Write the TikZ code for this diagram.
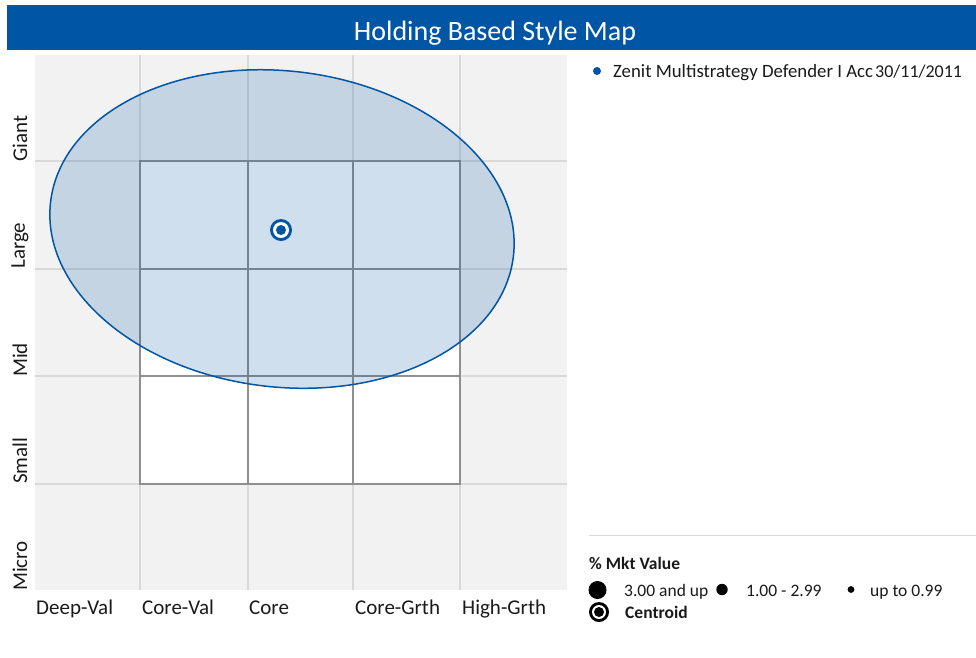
\documentclass[tikz,border=0pt]{standalone}
\usepackage{fontspec}
\setmainfont{Carlito}
\definecolor{barblue}{HTML}{0055A4}
\definecolor{plotbg}{HTML}{F2F2F2}
\definecolor{gridlt}{HTML}{D9D9D9}
\definecolor{boxln}{HTML}{8F8F8F}
\definecolor{txt}{HTML}{1A1A1A}
\tikzset{
  axlbl/.style={font=\fontsize{21}{24}\selectfont, text=txt, inner sep=0pt},
  leglbl/.style={font=\fontsize{17.5}{20}\selectfont, text=txt, inner sep=0pt, anchor=base west},
  serlbl/.style={font=\fontsize{18.8}{22}\selectfont, text=txt, inner sep=0pt, anchor=base west},
  gridline/.style={draw=gridlt, line width=1.8pt},
  boxline/.style={draw=boxln, line width=1.6pt},
}
\begin{document}
\begin{tikzpicture}[x=1pt,y=-1pt]
\useasboundingbox (0,0) rectangle (976,657);
\fill[white] (0,0) rectangle (976,657);
% title bar
\fill[barblue] (7,5) rectangle (976,50);
\node[font=\fontsize{28}{32}\selectfont, text=white, inner sep=0pt, anchor=base] (title) at (495,40.5) {Holding Based Style Map};
% plot background
\fill[plotbg] (35,55) rectangle (567,590);
% light grid
\foreach \x in {140,248,353,460} \draw[gridline] (\x,55) -- (\x,590);
\foreach \y in {161,269,376,484} \draw[gridline] (35,\y) -- (567,\y);
% inner style box
\fill[white] (140,161) rectangle (460,484);
\foreach \x in {248,353} \draw[boxline] (\x,161) -- (\x,484);
\foreach \y in {269,376} \draw[boxline] (140,\y) -- (460,\y);
\draw[boxline] (140,161) rectangle (460,484);
% ellipse
\draw[draw=barblue, line width=1.5pt, fill=barblue, fill opacity=0.19, rotate around={-6.7:(282,229)}] (282,229) ellipse [x radius=233pt, y radius=158pt];
% centroid
\fill[barblue] (281,230) circle[radius=11pt];
\fill[white] (281,230) circle[radius=8pt];
\fill[barblue] (281,230) circle[radius=5pt];
% y labels
\node[axlbl, rotate=90, anchor=west] (yGiant) at (20,162) {Giant};
\node[axlbl, rotate=90, anchor=west] (yLarge) at (20,269) {Large};
\node[axlbl, rotate=90, anchor=west] (yMid) at (20,377) {Mid};
\node[axlbl, rotate=90, anchor=west] (ySmall) at (20,484) {Small};
\node[axlbl, rotate=90, anchor=west] (yMicro) at (20,591) {Micro};
% x labels
\node[axlbl, anchor=base west] (xDV) at (36,614) {Deep-Val};
\node[axlbl, anchor=base west] (xCV) at (142,614) {Core-Val};
\node[axlbl, anchor=base west] (xC) at (249,614) {Core};
\node[axlbl, anchor=base west] (xCG) at (355,614) {Core-Grth};
\node[axlbl, anchor=base west] (xHG) at (462,614) {High-Grth};
% series legend
\fill[barblue] (597,71) circle[radius=4pt];
\node[serlbl] (ser) at (613,77.5) {Zenit Multistrategy Defender I Acc};
\node[serlbl, font=\fontsize{18}{21}\selectfont] (serdate) at (875,77.5) {30/11/2011};
% separator
\draw[gridlt, line width=1.5pt] (589,535.5) -- (976,535.5);
% size legend
\node[leglbl, font=\fontsize{17.5}{20}\selectfont\bfseries] (mkt) at (589,569) {\% Mkt Value};
\fill[black] (597.5,590) circle[radius=9pt];
\node[leglbl] (l1) at (624,596) {3.00 and up};
\fill[black] (722,589.5) circle[radius=5.7pt];
\node[leglbl] (l2) at (746,596) {1.00 - 2.99};
\fill[black] (851,589.5) circle[radius=3.4pt];
\node[leglbl] (l3) at (870,596) {up to 0.99};
\fill[black] (599,612) circle[radius=10pt];
\fill[white] (599,612) circle[radius=7pt];
\fill[black] (599,612) circle[radius=5pt];
\node[leglbl, font=\fontsize{17.5}{20}\selectfont\bfseries] (cen) at (625,618) {Centroid};
\end{tikzpicture}
\end{document}
